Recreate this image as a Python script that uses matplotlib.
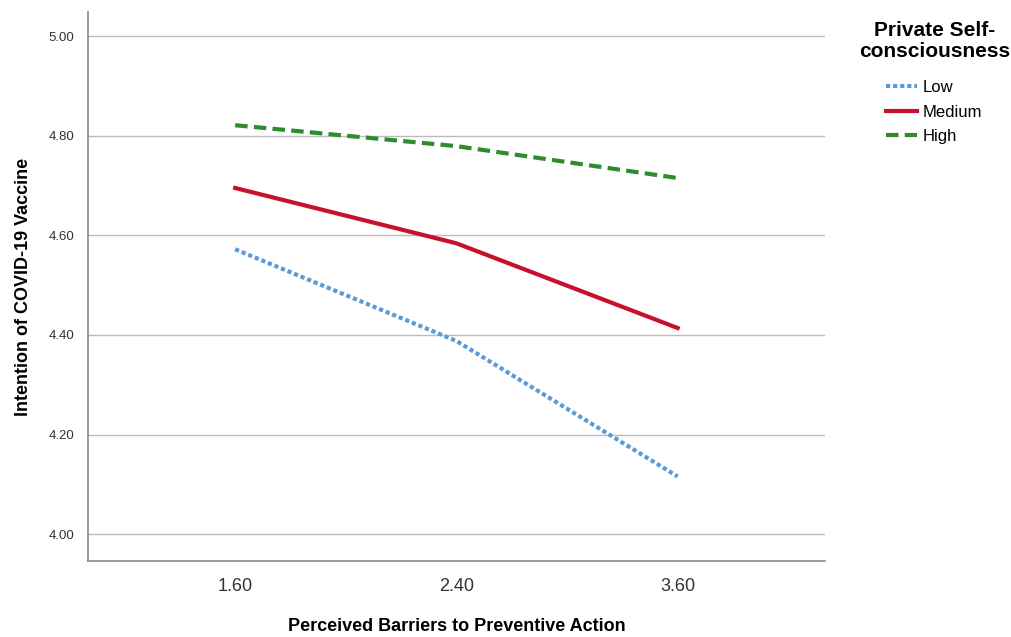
import numpy as np
import matplotlib.pyplot as plt

barriers = ["1.60", "2.40", "3.60"]
low = [4.572, 4.388, 4.116]
medium = [4.695, 4.584, 4.414]
high = [4.821, 4.779, 4.715]
yticks = [4.00, 4.20, 4.40, 4.60, 4.80, 5.00]

plt.rcParams['font.family'] = ['Liberation Sans', 'DejaVu Sans']

fig = plt.figure(figsize=(10.12, 6.37), dpi=100)
ax = fig.add_axes([0.087, 0.119, 0.728, 0.862])

x = np.arange(len(barriers))
ax.plot(x, low, color='#5b9bd5', lw=3, linestyle=(0, (1, 0.7)), label='Low')
ax.plot(x, medium, color='#c8102e', lw=3, label='Medium')
ax.plot(x, high, color='#2e8b2e', lw=3, linestyle=(0, (3, 1.5)), label='High')

ax.set_xlim(-0.665, 2.665)
ax.set_ylim(3.946, 5.048)
ax.set_xticks(x)
ax.set_xticklabels(barriers, fontsize=13, color='#333333')
ax.set_yticks(yticks)
ax.set_yticklabels([f"{v:.2f}" for v in yticks], fontsize=9.5, color='#333333')
ax.tick_params(length=0, pad=10)
ax.tick_params(axis='x', pad=12)
ax.grid(axis='y', color='#bbbbbb', lw=1)
ax.set_axisbelow(True)
for s in ['top', 'right']:
    ax.spines[s].set_visible(False)
for s in ['left', 'bottom']:
    ax.spines[s].set_color('#888888')
    ax.spines[s].set_linewidth(1.2)

ax.set_xlabel("Perceived Barriers to Preventive Action", fontsize=13, fontweight='bold', labelpad=17)
ax.set_ylabel("Intention of COVID-19 Vaccine", fontsize=13, fontweight='bold', labelpad=12)

# legend title placed by hand so it can be centred over the entries
fig.text(935 / 1012, 1 - 41 / 637, "Private Self-\nconsciousness", ha='center', va='center',
         multialignment='center', fontsize=15, fontweight='bold', linespacing=1.12)
leg = ax.legend(loc='upper left', bbox_to_anchor=(886 / 1012, 1 - 80 / 637),
                bbox_transform=fig.transFigure, frameon=False, fontsize=12,
                handlelength=1.86, handletextpad=0.35, labelspacing=0.58,
                borderpad=0, borderaxespad=0)

fig.savefig('out.png', dpi=100)
